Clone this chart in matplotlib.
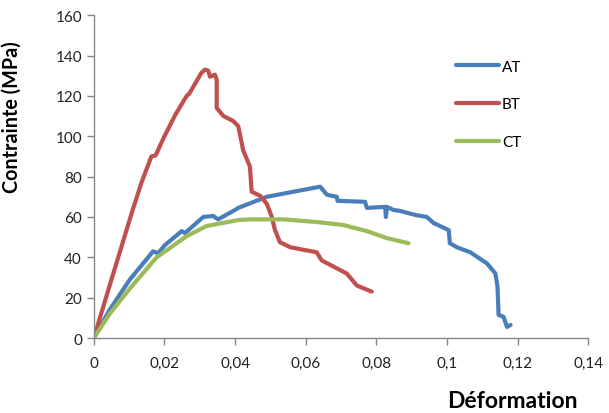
import matplotlib
matplotlib.use("Agg")
import matplotlib.pyplot as plt
from matplotlib.ticker import FuncFormatter, MultipleLocator

# ---- data ----
at_x = [0, 0.0045, 0.0102, 0.0168, 0.0182, 0.0201, 0.0249, 0.0258, 0.031, 0.0338, 0.0352,
        0.0395, 0.0409, 0.049, 0.0565, 0.0641, 0.066, 0.0688, 0.0690, 0.0768, 0.0773,
        0.0825, 0.0827, 0.083, 0.0848, 0.0867, 0.091, 0.0943, 0.0962, 0.1005, 0.1008,
        0.1028, 0.1066, 0.1113, 0.1137, 0.1143, 0.1146, 0.116, 0.117, 0.118]
at_y = [0, 14, 29, 43, 42, 46, 53, 52, 60, 60.5, 58.8,
        63, 64.5, 70, 72.5, 75, 71, 70, 68, 67.5, 64.5,
        65, 60, 65, 63.5, 63, 61, 60, 57, 53.5, 47,
        45, 42.5, 37, 32, 25.5, 11.5, 10.5, 5.5, 6.5]

bt_x = [0, 0.005, 0.0111, 0.0135, 0.0163, 0.0175, 0.020, 0.0232, 0.0263, 0.027, 0.0305, 0.0315,
        0.0324, 0.0329, 0.0343, 0.0348, 0.0348, 0.0367, 0.0395, 0.0409, 0.0423, 0.0442,
        0.0447, 0.0471, 0.049, 0.0504, 0.0513, 0.0527, 0.0556, 0.0631, 0.0645, 0.0716,
        0.0745, 0.0787]
bt_y = [0, 29, 64, 77, 90, 90.5, 100, 111, 120, 121, 131.5, 133,
        132.5, 129.5, 130.5, 128, 114, 110, 107.5, 105, 93, 85,
        72.5, 70.5, 66.5, 60, 53.5, 47.5, 45, 42.5, 38.5, 32,
        26, 23]

ct_x = [0, 0.0045, 0.0102, 0.0178, 0.0263, 0.0319, 0.0409, 0.0442, 0.0537, 0.0631,
        0.0707, 0.0773, 0.083, 0.0891]
ct_y = [0, 12, 24.5, 40, 50.5, 55.5, 58.5, 58.8, 58.8, 57.5,
        56, 53, 49.5, 47]

labels = ["AT", "BT", "CT"]
colors = ["#4A7EBB", "#C0504D", "#9BBB59"]

plt.rcParams['font.family'] = ['Lato', 'DejaVu Sans']

fig = plt.figure(figsize=(6.09, 4.14), dpi=100)
ax = fig.add_axes([0.154, 0.181, 0.812, 0.780])

for xs, ys, lab, c in zip([at_x, bt_x, ct_x], [at_y, bt_y, ct_y], labels, colors):
    ax.plot(xs, ys, color=c, lw=3, label=lab, solid_joinstyle='round', solid_capstyle='round')

ax.set_xlim(0, 0.14)
ax.set_ylim(0, 160)
ax.xaxis.set_major_locator(MultipleLocator(0.02))
ax.yaxis.set_major_locator(MultipleLocator(20))

def fmt(v, pos):
    s = ('%.2f' % v).rstrip('0').rstrip('.')
    return s.replace('.', ',')

ax.xaxis.set_major_formatter(FuncFormatter(fmt))
for side in ['top', 'right']:
    ax.spines[side].set_visible(False)
for side in ['left', 'bottom']:
    ax.spines[side].set_color('#878787')
    ax.spines[side].set_linewidth(1)
ax.tick_params(axis='both', colors='#878787', labelcolor='#222222', labelsize=11,
               length=5, width=1, direction='out')
ax.tick_params(axis='x', pad=8)

ax.set_ylabel("Contrainte (MPa)", fontsize=14.2, fontweight='bold')
ax.yaxis.set_label_coords(-0.145, 0.686)
fig.text(0.841, 0.031, "Déformation", fontsize=16.5, fontweight='bold', ha='center', va='center')

leg = ax.legend(loc='upper left', bbox_to_anchor=(0.705, 0.905), frameon=False,
                handlelength=2.8, labelspacing=1.55, fontsize=11, handletextpad=0.2)

fig.savefig("out.png", dpi=100)
